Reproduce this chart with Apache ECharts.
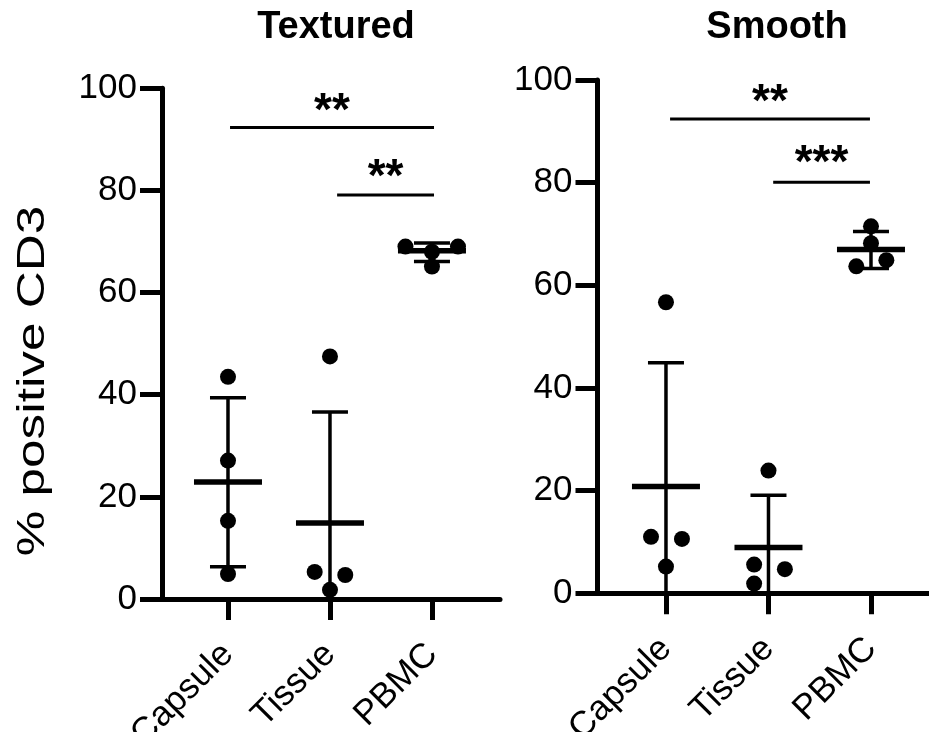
<!DOCTYPE html>
<html><head><meta charset="utf-8">
<script src="https://cdn.jsdelivr.net/npm/echarts@6/dist/echarts.min.js"></script>
<style>html,body{margin:0;padding:0;background:#fff}#c{width:929px;height:732px}</style>
</head><body><div id="c"></div>
<script>
const categories = ['Capsule', 'Tissue', 'PBMC'];
const panelTitles = ['Textured', 'Smooth'];
const yAxisTitle = '% positive CD3';
const yTicks = [0, 20, 40, 60, 80, 100];

// Textured panel
const texturedValues = [[43.5, 27.1, 15.3, 4.9], [47.5, 5.3, 4.7, 1.8], [69.0, 68.0, 69.0, 65.1]];
const texturedOffsets = [[0, 0, 0, 0], [0, -0.15, 0.15, 0], [-0.26, 0, 0.255, 0]];
const texturedMean = [22.9, 14.9, 68.2];
const texturedUpper = [39.4, 36.6, 69.7];
const texturedLower = [6.3, -6.9, 66.1];
const texturedSigFrom = [0.02, 1.07];
const texturedSigTo = [2.02, 2.02];
const texturedSigLine = [92.3, 79.1];
const texturedSigLabelY = [97.3, 84.4];
const texturedSigText = ['**', '**'];

// Smooth panel
const smoothValues = [[56.7, 11.0, 10.6, 5.2], [23.9, 5.6, 4.7, 1.9], [71.5, 68.2, 64.9, 63.7]];
const smoothOffsets = [[0, -0.146, 0.156, 0], [0, -0.14, 0.16, -0.14], [0, 0, 0.15, -0.143]];
const smoothMean = [20.8, 8.9, 67.0];
const smoothUpper = [44.9, 19.1, 70.5];
const smoothLower = [-3.2, -1.1, 63.3];
const smoothSigFrom = [0.04, 1.046];
const smoothSigTo = [1.99, 1.99];
const smoothSigLine = [92.4, 80.1];
const smoothSigLabelY = [97.4, 85.5];
const smoothSigText = ['**', '***'];

const FONT = '"Liberation Sans", Arial, Helvetica, sans-serif';

function pointsData(values, offsets) {
  const out = [];
  values.forEach((arr, i) => arr.forEach((v, j) => out.push([i + offsets[i][j], v])));
  return out;
}
function errData(mean, up, low) {
  return categories.map((c, i) => [i, mean[i], up[i], low[i]]);
}
function sigData(from, to, lineY, labY) {
  return from.map((f, i) => [f, to[i], lineY[i], labY[i]]);
}

function renderErr(params, api) {
  const i = api.value(0), m = api.value(1), u = api.value(2), l = api.value(3);
  const pm = api.coord([i, m]);
  const pu = api.coord([i, u]);
  const pl = api.coord([i, Math.max(l, 0)]);
  const x = pm[0];
  const ls = { stroke: '#000', lineWidth: 3.5 };
  const children = [
    { type: 'line', shape: { x1: x, y1: pu[1], x2: x, y2: pl[1] }, style: ls },
    { type: 'line', shape: { x1: x - 18, y1: pu[1], x2: x + 18, y2: pu[1] }, style: ls },
    { type: 'line', shape: { x1: x - 34, y1: pm[1], x2: x + 34, y2: pm[1] }, style: { stroke: '#000', lineWidth: 5.5 } }
  ];
  if (l >= 0) children.push({ type: 'line', shape: { x1: x - 18, y1: pl[1], x2: x + 18, y2: pl[1] }, style: ls });
  return { type: 'group', children };
}

function makeSigRenderer(texts) {
  return function (params, api) {
    const f = api.value(0), t = api.value(1), ly = api.value(2), ty = api.value(3);
    const txt = texts[params.dataIndex];
    const p1 = api.coord([f, ly]);
    const p2 = api.coord([t, ly]);
    const pt = api.coord([(f + t) / 2, ty]);
    return {
      type: 'group', children: [
        { type: 'line', shape: { x1: p1[0], y1: p1[1], x2: p2[0], y2: p2[1] }, style: { stroke: '#000', lineWidth: 3 } },
        { type: 'text', style: { text: txt, x: pt[0], y: pt[1] + 10, textAlign: 'center', textVerticalAlign: 'middle', align: 'center', verticalAlign: 'middle', font: 'bold 46px ' + FONT, fill: '#000' } }
      ]
    };
  };
}

function xAxisCfg(gi, min, max) {
  return {
    gridIndex: gi, type: 'value', min: min, max: max,
    axisLine: { show: true, onZero: false, lineStyle: { color: '#000', width: 5 } },
    axisTick: { show: true, customValues: [0, 1, 2], length: 21, lineStyle: { color: '#000', width: 5 } },
    axisLabel: { show: true, customValues: [0, 1, 2], formatter: v => categories[Math.round(v)], rotate: 45, fontSize: 35, fontFamily: FONT, color: '#000', margin: 50 },
    splitLine: { show: false }
  };
}
function yAxisCfg(gi) {
  return {
    gridIndex: gi, type: 'value', min: yTicks[0], max: yTicks[yTicks.length - 1], interval: yTicks[1] - yTicks[0],
    axisLine: { show: true, onZero: false, lineStyle: { color: '#000', width: 5 } },
    axisTick: { show: true, length: 22, lineStyle: { color: '#000', width: 5 } },
    axisLabel: { show: true, fontSize: 35, fontFamily: FONT, color: '#000', margin: 25 },
    splitLine: { show: false }
  };
}

const chart = echarts.init(document.getElementById('c'), null, { renderer: 'canvas' });
chart.setOption({
  backgroundColor: '#fff',
  animation: false,
  grid: [
    { left: 162, top: 88.3, width: 338, height: 510.7, containLabel: false, outerBoundsMode: 'none' },
    { left: 597.5, top: 80, width: 331.5, height: 513.3, containLabel: false, outerBoundsMode: 'none' }
  ],
  xAxis: [xAxisCfg(0, -0.647, 2.667), xAxisCfg(1, -0.668, 2.566)],
  yAxis: [yAxisCfg(0), yAxisCfg(1)],
  graphic: [
    { type: 'text', x: 336, y: 28, style: { text: panelTitles[0], textAlign: 'center', textVerticalAlign: 'middle', align: 'center', verticalAlign: 'middle', font: 'bold 38px ' + FONT, fill: '#000' } },
    { type: 'text', x: 777, y: 28, style: { text: panelTitles[1], textAlign: 'center', textVerticalAlign: 'middle', align: 'center', verticalAlign: 'middle', font: 'bold 38px ' + FONT, fill: '#000' } },
    { type: 'text', x: 34, y: 381, rotation: Math.PI / 2, scaleX: 1.35, style: { text: yAxisTitle, textAlign: 'center', textVerticalAlign: 'middle', align: 'center', verticalAlign: 'middle', font: '38px ' + FONT, fill: '#000' } }
  ],
  series: [
    { type: 'custom', xAxisIndex: 0, yAxisIndex: 0, renderItem: renderErr, data: errData(texturedMean, texturedUpper, texturedLower), z: 2 },
    { type: 'scatter', xAxisIndex: 0, yAxisIndex: 0, symbol: 'circle', symbolSize: 16, itemStyle: { color: '#000', opacity: 1 }, data: pointsData(texturedValues, texturedOffsets), z: 3 },
    { type: 'custom', xAxisIndex: 0, yAxisIndex: 0, renderItem: makeSigRenderer(texturedSigText), data: sigData(texturedSigFrom, texturedSigTo, texturedSigLine, texturedSigLabelY), z: 4 },
    { type: 'custom', xAxisIndex: 1, yAxisIndex: 1, renderItem: renderErr, data: errData(smoothMean, smoothUpper, smoothLower), z: 2 },
    { type: 'scatter', xAxisIndex: 1, yAxisIndex: 1, symbol: 'circle', symbolSize: 16, itemStyle: { color: '#000', opacity: 1 }, data: pointsData(smoothValues, smoothOffsets), z: 3 },
    { type: 'custom', xAxisIndex: 1, yAxisIndex: 1, renderItem: makeSigRenderer(smoothSigText), data: sigData(smoothSigFrom, smoothSigTo, smoothSigLine, smoothSigLabelY), z: 4 }
  ]
});
</script></body></html>
